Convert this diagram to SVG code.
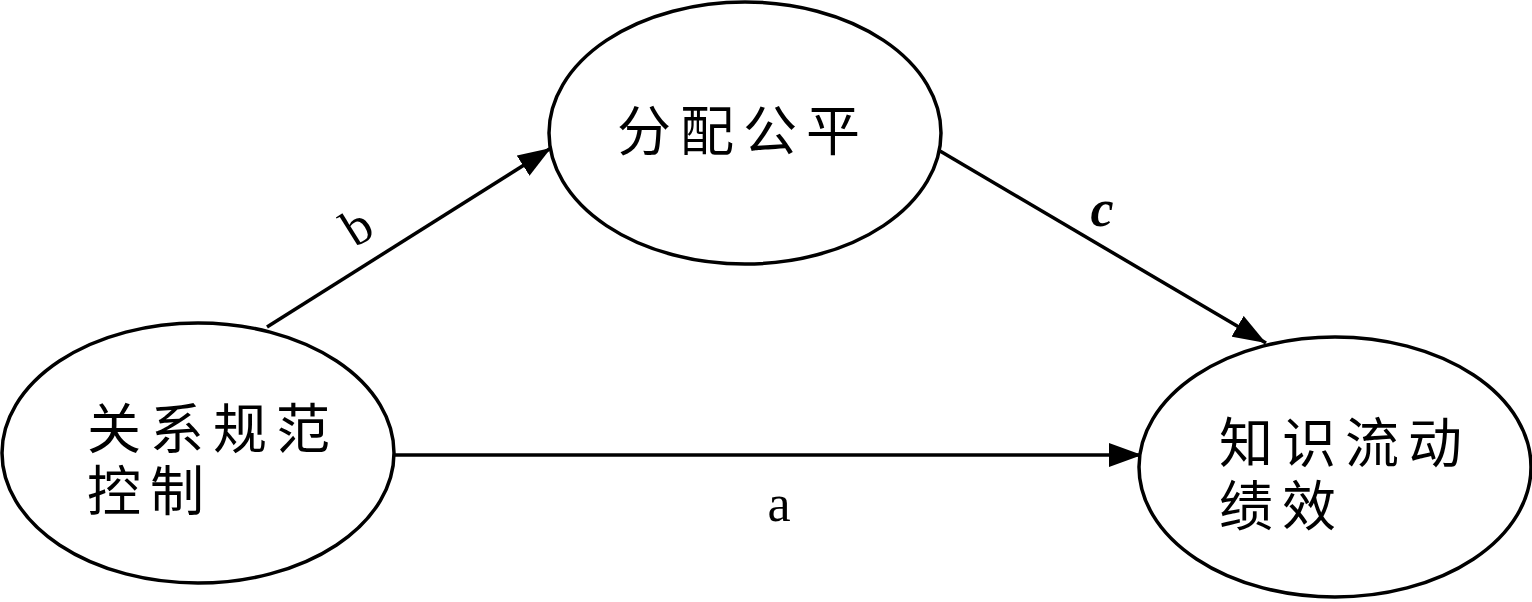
<svg xmlns="http://www.w3.org/2000/svg" width="1532" height="602" viewBox="0 0 1532 602">
<style>
.node{fill:#fff;stroke:#000;stroke-width:3.5}
.edge{stroke:#000;stroke-width:3.5;fill:none;marker-end:url(#arr)}
.zh{font-family:"Noto Sans CJK SC","Noto Sans CJK JP",sans-serif;font-size:54px;letter-spacing:9px;fill:#000}
.lb{font-family:"Liberation Serif",serif;font-size:52px;fill:#000}
</style>
<defs>
<marker id="arr" viewBox="0 0 33 24" refX="33" refY="12" markerWidth="33" markerHeight="24" markerUnits="userSpaceOnUse" orient="auto">
<path d="M0,0 L33,12 L0,24 Z" fill="#000"/>
</marker>
</defs>
<rect width="1532" height="602" fill="#fff"/>
<g id="connectors">
<line class="edge" x1="394" y1="455" x2="1142" y2="455"/>
<line class="edge" x1="267" y1="327" x2="551" y2="148"/>
<line class="edge" x1="940" y1="151" x2="1266" y2="343"/>
<text class="lb" x="0" y="0" text-anchor="middle" transform="translate(366,241) rotate(-32)">b</text>
<text class="lb" x="1102" y="226" text-anchor="middle" font-style="italic" font-weight="bold">c</text>
<text class="lb" x="779" y="521" text-anchor="middle">a</text>
</g>
<g id="node-left">
<ellipse class="node" cx="198" cy="453" rx="196" ry="130"/>
<text class="zh"><tspan x="87" y="449">关系规范</tspan><tspan x="87" y="511">控制</tspan></text>
</g>
<g id="node-top">
<ellipse class="node" cx="745" cy="133" rx="196" ry="131"/>
<text class="zh" x="617" y="151">分配公平</text>
</g>
<g id="node-right">
<ellipse class="node" cx="1335" cy="467" rx="196" ry="130"/>
<text class="zh"><tspan x="1219" y="463">知识流动</tspan><tspan x="1219" y="526">绩效</tspan></text>
</g>
</svg>
